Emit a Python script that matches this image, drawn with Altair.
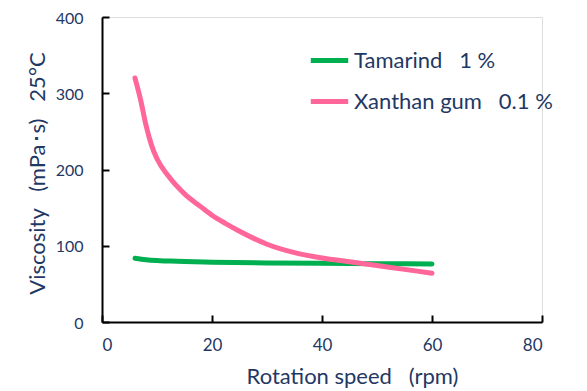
import altair as alt
import pandas as pd

NB = "\u00a0"
tam_x = [6, 8, 10, 12, 15, 20, 30, 40, 50, 60]
tam_y = [83.5, 81.5, 80.5, 80, 79.3, 78.5, 77.5, 77, 76.5, 76]
xan_x = [6, 7, 8, 9, 10, 12, 15, 18, 20, 22.5, 25, 27.5, 30, 35, 40, 45, 50, 55, 60]
xan_y = [320, 292, 258, 232, 214, 192, 168, 151, 140, 129, 119, 110, 102, 91, 84, 79, 74, 69, 64]
series = ["Tamarind" + NB * 3 + "1 %", "Xanthan gum" + NB * 3 + "0.1 %"]
colors = ["#00B050", "#FF6699"]

df = pd.concat([
    pd.DataFrame({"x": tam_x, "y": tam_y, "s": series[0]}),
    pd.DataFrame({"x": xan_x, "y": xan_y, "s": series[1]}),
])

FONT = "Lato"
TXT = "#1F3864"

xs = alt.Scale(domain=[0, 80], nice=False, zero=False)
ys = alt.Scale(domain=[0, 400], nice=False, zero=False)

main = alt.Chart(df).mark_line(strokeWidth=5, strokeCap="round", interpolate="monotone").encode(
    x=alt.X("x:Q", scale=xs, axis=alt.Axis(
        orient="bottom", values=[0, 20, 40, 60, 80], ticks=False, grid=False,
        domainColor="black", domainWidth=2, labelFont=FONT, labelFontSize=17,
        labelColor=TXT, labelPadding=15, title="Rotation speed" + NB * 3 + "(rpm)",
        titleFont=FONT, titleFontSize=22, titleFontWeight="normal", titleColor=TXT,
        titleX=250, titleY=61, titleAnchor="start", titleAlign="center", titleBaseline="alphabetic")),
    y=alt.Y("y:Q", scale=ys, axis=alt.Axis(
        orient="left", values=[0, 100, 200, 300, 400], ticks=False, grid=False,
        domainColor="black", domainWidth=2, labelFont=FONT, labelFontSize=16,
        labelColor=TXT, labelPadding=19, labelOffset=1,
        title="Viscosity" + NB * 3 + "(mPa･s)" + NB * 3 + "25°C",
        titleFont=FONT, titleFontSize=22, titleFontWeight="normal", titleColor=TXT,
        titleX=-65, titleY=156, titleAngle=-90, titleAlign="center", titleBaseline="middle")),
    color=alt.Color("s:N", sort=series, scale=alt.Scale(domain=series, range=colors),
        legend=alt.Legend(orient="none", legendX=206, legendY=22, title=None,
                          symbolType="stroke", symbolSize=1400, symbolStrokeWidth=5,
                          labelFont=FONT, labelFontSize=22, labelColor=TXT, labelLimit=400,
                          labelOffset=3, rowPadding=8)),
)

ticks = alt.Chart(df).mark_line(opacity=0).encode(
    x=alt.X("x:Q", scale=xs, axis=alt.Axis(
        orient="bottom", values=[0, 20, 40, 60, 80], offset=-7, tickSize=7, tickWidth=2,
        tickColor="black", domain=False, labels=False, grid=False, title=None)),
    y=alt.Y("y:Q", scale=ys, axis=alt.Axis(
        orient="left", values=[0, 100, 200, 300, 400], offset=-7, tickSize=7, tickWidth=2,
        tickColor="black", domain=False, labels=False, grid=False, title=None)),
    detail="s:N",
)

chart = alt.layer(main, ticks).resolve_axis(x="independent", y="independent").properties(
    width=440, height=305,
    autosize=alt.AutoSizeParams(type="none"),
    padding={"left": 94, "top": 9, "right": 37, "bottom": 66},
).configure_view(stroke=None).configure(background="white")

chart.save("out.html", embed_options={"renderer": "svg", "actions": False})
